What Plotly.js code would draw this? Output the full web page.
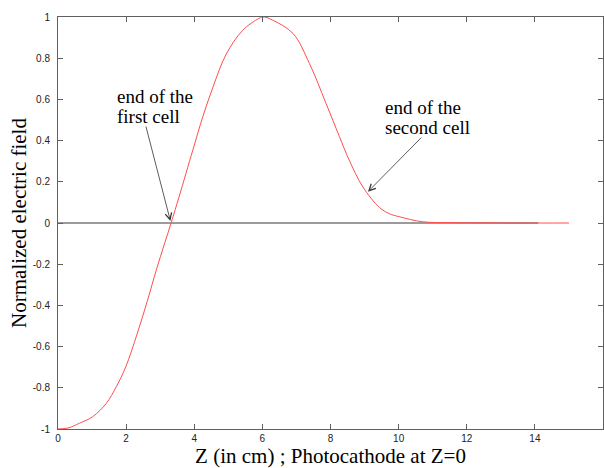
<!DOCTYPE html>
<html>
<head>
<meta charset="utf-8">
<script src="https://cdn.plot.ly/plotly-3.0.1.min.js"></script>
<style>html,body{margin:0;padding:0;background:#fff;}#chart{width:604px;height:468px;}</style>
</head>
<body>
<div id="chart"></div>
<script>
// Data
const zPos = [0, 0.3, 0.63, 1.02, 1.42, 1.71, 1.99, 2.32, 2.62, 2.91, 3.32, 3.56, 3.96, 4.25, 4.55, 4.94, 5.42, 5.9, 6.05, 6.3, 6.9, 7.38, 7.87, 8.26, 8.55, 8.95, 9.44, 9.73, 10.03, 10.7, 11.5, 12.5, 13.5, 15.0];
const fieldValues = [-1, -0.995, -0.972, -0.94, -0.875, -0.795, -0.698, -0.54, -0.38, -0.215, 0.0, 0.13, 0.355, 0.515, 0.66, 0.82, 0.935, 0.993, 1.0, 0.985, 0.92, 0.775, 0.58, 0.42, 0.305, 0.175, 0.075, 0.045, 0.03, 0.006, 0.002, 0.001, 0, 0];
const zeroLineZ = [0, 14.1];
const zeroLineE = [0, 0];
const xTickVals = [0, 2, 4, 6, 8, 10, 12, 14, 16];
const xTickText = ['0', '2', '4', '6', '8', '10', '12', '14', '16'];
const yTickVals = [-1, -0.8, -0.6, -0.4, -0.2, 0, 0.2, 0.4, 0.6, 0.8, 1];
const yTickText = ['-1', '-0.8', '-0.6', '-0.4', '-0.2', '0', '0.2', '0.4', '0.6', '0.8', '1'];
const note1Lines = ['end of the', 'first cell'];
const note2Lines = ['end of the', 'second cell'];
const arrow1 = {tail: [2.57, 0.476], tip: [3.30, 0.01]};
const arrow2 = {tail: [10.71, 0.422], tip: [9.10, 0.152]};

const serif = 'Liberation Serif, Times New Roman, serif';
const sans = 'Liberation Sans, Arial, sans-serif';

const traces = [
  {x: zeroLineZ, y: zeroLineE, mode: 'lines', line: {color: '#383838', width: 1}, hoverinfo: 'skip'},
  {x: zPos, y: fieldValues, mode: 'lines', line: {color: '#ff4d4d', width: 1, shape: 'spline', smoothing: 1}}
];

function textNote(lines, x, y1, y2) {
  return [
    {x: x, y: y1, xref: 'x', yref: 'y', text: lines[0], showarrow: false, xanchor: 'left', yanchor: 'middle',
      font: {family: serif, size: 19, color: '#000000'}},
    {x: x, y: y2, xref: 'x', yref: 'y', text: lines[1], showarrow: false, xanchor: 'left', yanchor: 'middle',
      font: {family: serif, size: 19, color: '#000000'}}
  ];
}
function arrowNote(a) {
  return {x: a.tip[0], y: a.tip[1], ax: a.tail[0], ay: a.tail[1], xref: 'x', yref: 'y', axref: 'x', ayref: 'y',
    text: '', showarrow: true, arrowhead: 5, arrowsize: 1.6, arrowwidth: 0.8, arrowcolor: '#333'};
}

const layout = {
  width: 604, height: 468,
  margin: {l: 58, r: 1, t: 17, b: 39, pad: 0},
  paper_bgcolor: '#fff', plot_bgcolor: '#fff',
  font: {family: serif, size: 19, color: '#000000'},
  showlegend: false,
  xaxis: {
    range: [0, 16], tickvals: xTickVals, ticktext: xTickText,
    showgrid: false, zeroline: false, showline: true, linecolor: '#606060', linewidth: 1, mirror: 'ticks',
    ticks: 'inside', ticklen: 5, tickcolor: '#606060', tickwidth: 1,
    tickfont: {family: sans, size: 10, color: '#222'},
    title: {text: 'Z (in cm) ; Photocathode at Z=0', font: {family: serif, size: 21, color: '#000'}, standoff: 8}
  },
  yaxis: {
    range: [-1, 1], tickvals: yTickVals, ticktext: yTickText,
    showgrid: false, zeroline: false, showline: true, linecolor: '#606060', linewidth: 1, mirror: 'ticks',
    ticks: 'inside', ticklen: 5, tickcolor: '#606060', tickwidth: 1,
    tickfont: {family: sans, size: 10, color: '#222'},
    ticklabelstandoff: 5,
    title: {text: 'Normalized electric field', font: {family: serif, size: 21, color: '#000'}, standoff: 0}
  },
  annotations: [].concat(
    textNote(note1Lines, 1.66, 0.612, 0.519),
    textNote(note2Lines, 9.53, 0.563, 0.466),
    [arrowNote(arrow1), arrowNote(arrow2)]
  )
};

Plotly.newPlot('chart', traces, layout, {staticPlot: true, displayModeBar: false});
</script>
</body>
</html>
